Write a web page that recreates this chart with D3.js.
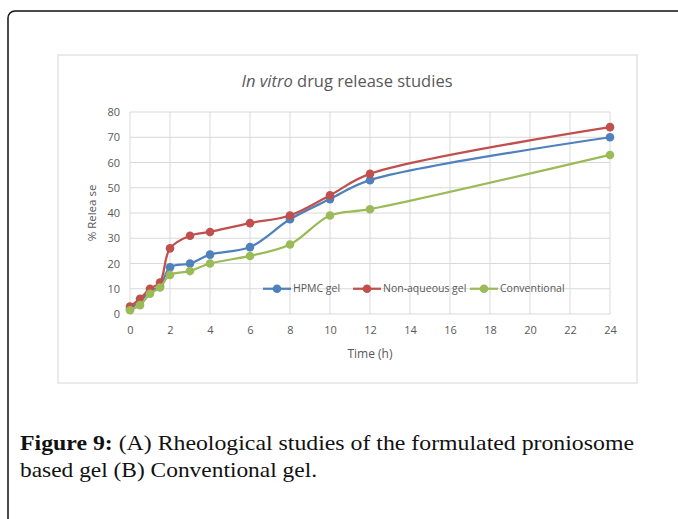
<!DOCTYPE html>
<html>
<head>
<meta charset="utf-8">
<script src="https://cdn.jsdelivr.net/npm/d3@7"></script>
<style>
  html, body { margin: 0; padding: 0; background: #fff; }
  svg { display: block; }
  .tick text { fill: #595959; font-family: "Open Sans", "Liberation Sans", sans-serif; font-size: 11px; }
  .grid line { stroke: #d9d9d9; stroke-width: 1; }
</style>
</head>
<body>
<div id="chart"></div>
<script>
// In vitro drug release: cumulative % released vs time, three gel formulations.
const times = [0, 0.5, 1, 1.5, 2, 3, 4, 6, 8, 10, 12, 24];
const hpmc = [2, 5, 9, 11, 18.5, 20, 23.5, 26.5, 37.5, 45.5, 53, 70];
const nonAqueous = [3, 6, 10, 12.5, 26, 31, 32.5, 36, 39, 47, 55.5, 74];
const conventional = [1.5, 3.5, 8, 10.5, 15.5, 17, 20, 23, 27.5, 39, 41.5, 63];
const seriesNames = ["HPMC gel", "Non-aqueous gel", "Conventional"];
const seriesColors = ["#4f81bd", "#c0504d", "#9bbb59"];
const xTicks = [0, 2, 4, 6, 8, 10, 12, 14, 16, 18, 20, 22, 24];
const yTicks = [0, 10, 20, 30, 40, 50, 60, 70, 80];

const W = 678, H = 519;
const svg = d3.select("#chart").append("svg").attr("width", W).attr("height", H);

// Outer figure frame (runs off the right/bottom of the crop).
svg.append("rect").attr("x", 8).attr("y", 11).attr("width", 700).attr("height", 540)
  .attr("rx", 7).attr("fill", "none").attr("stroke", "#111").attr("stroke-width", 1.5);

// Chart box.
svg.append("rect").attr("x", 58).attr("y", 55).attr("width", 579).attr("height", 328)
  .attr("fill", "#fff").attr("stroke", "#e3e3e3").attr("stroke-width", 1.5);

const m = { left: 130, top: 112, right: 610, bottom: 314 };
const x = d3.scaleLinear([0, 24], [m.left, m.right]);
const y = d3.scaleLinear([0, 80], [m.bottom, m.top]);

const grid = svg.append("g").attr("class", "grid");
grid.selectAll("line.h").data(yTicks).join("line").attr("class", "h")
  .attr("x1", m.left).attr("x2", m.right).attr("y1", (d) => y(d)).attr("y2", (d) => y(d));
grid.selectAll("line.v").data(xTicks).join("line").attr("class", "v")
  .attr("y1", m.top).attr("y2", m.bottom).attr("x1", (d) => x(d)).attr("x2", (d) => x(d));

svg.append("g").attr("transform", `translate(0,${m.bottom})`)
  .call(d3.axisBottom(x).tickValues(xTicks).tickSize(0).tickPadding(12))
  .call((g) => g.select(".domain").remove());
svg.append("g").attr("transform", `translate(${m.left},0)`)
  .call(d3.axisLeft(y).tickValues(yTicks).tickSize(0).tickPadding(10))
  .call((g) => g.select(".domain").remove());

// Titles.
const title = svg.append("text").attr("x", 347).attr("y", 87).attr("text-anchor", "middle")
  .attr("fill", "#595959").style("font-family", "'Open Sans', sans-serif").style("font-size", "16.5px");
title.append("tspan").style("font-style", "italic").text("In vitro");
title.append("tspan").text(" drug release studies");

svg.append("text").attr("x", 370).attr("y", 358).attr("text-anchor", "middle")
  .attr("fill", "#595959").style("font-family", "'Open Sans', sans-serif").style("font-size", "12px")
  .text("Time (h)");
svg.append("text").attr("transform", `translate(96,${(m.top + m.bottom) / 2}) rotate(-90)`)
  .attr("text-anchor", "middle").attr("fill", "#595959")
  .style("font-family", "'Open Sans', sans-serif").style("font-size", "11.5px")
  .text("% Relea se");

// Series (smoothed lines with round markers).
const allSeries = [hpmc, nonAqueous, conventional];
const line = d3.line().x((d, i) => x(times[i])).y((d) => y(d)).curve(d3.curveCatmullRom.alpha(0.5));
allSeries.forEach((vals, k) => {
  const g = svg.append("g");
  g.append("path").datum(vals).attr("d", line).attr("fill", "none")
    .attr("stroke", seriesColors[k]).attr("stroke-width", 2.25);
  g.selectAll("circle").data(vals).join("circle")
    .attr("cx", (d, i) => x(times[i])).attr("cy", (d) => y(d)).attr("r", 4.3)
    .attr("fill", seriesColors[k]);
});

// Legend, sitting on the 10% gridline.
const legendX = [263, 353, 470];
const ly = y(10);
seriesNames.forEach((name, k) => {
  const g = svg.append("g").attr("transform", `translate(${legendX[k]},${ly})`);
  g.append("line").attr("x1", 0).attr("x2", 28).attr("stroke", seriesColors[k]).attr("stroke-width", 2.25);
  g.append("circle").attr("cx", 14).attr("r", 4.3).attr("fill", seriesColors[k]);
  g.append("text").attr("x", 30).attr("dy", "0.35em").attr("fill", "#595959")
    .style("font-family", "'Open Sans', sans-serif").style("font-size", "10.5px").text(name);
});

// Caption.
const cap = svg.append("g").style("font-family", "'Liberation Serif', 'DejaVu Serif', serif")
  .style("font-size", "21px").attr("fill", "#111");
const l1 = cap.append("text").attr("x", 20).attr("y", 450)
  .attr("textLength", 614).attr("lengthAdjust", "spacingAndGlyphs");
l1.append("tspan").style("font-weight", "bold").text("Figure 9:");
l1.append("tspan").text(" (A) Rheological studies of the formulated proniosome");
cap.append("text").attr("x", 20).attr("y", 477)
  .attr("textLength", 297).attr("lengthAdjust", "spacingAndGlyphs")
  .text("based gel (B) Conventional gel.");
</script>
</body>
</html>
